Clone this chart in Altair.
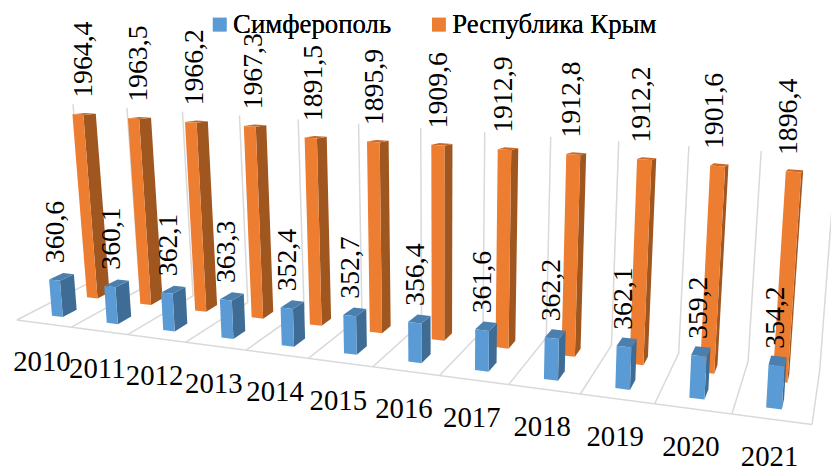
import altair as alt
import pandas as pd

YEARS = ["2010", "2011", "2012", "2013", "2014", "2015", "2016", "2017", "2018", "2019", "2020", "2021"]
SIMFEROPOL = [360.6, 360.1, 362.1, 363.3, 352.4, 352.7, 356.4, 361.6, 362.2, 362.1, 359.2, 354.2]
CRIMEA = [1964.4, 1963.5, 1966.2, 1967.3, 1891.5, 1895.9, 1909.6, 1912.9, 1912.8, 1912.2, 1901.6, 1896.4]
SERIES = ["Симферополь", "Республика Крым"]
COLORS = ["#5B9BD5", "#ED7D31"]
SIDE = ["#3F6C95", "#A0561F"]
TOP = ["#4A7FAE", "#C96A28"]
WALL_TOP = 2035
FONT = "Liberation Serif"


# Perspective of the 3-D column chart: i = category, d = depth, v = value
def project(i, d, v):
    w = 1 - 0.0155 * i + 0.08 * d
    nx = 63.3 + 53.7 * i + d * (42.9 + 2.3 * i)
    ny = 317.7 + 2.11 * i + d * (5.2 + 0.28 * i)
    x0, y0 = nx / w, ny / w
    return 445 + (x0 - 445) * (1 + 2.1e-5 * v), y0 - 0.1017 * v / w


def polygon_rows(poly, corners, **extra):
    rows = []
    for seq, (i, d, v) in enumerate(corners):
        x, y = project(i, d, v)
        rows.append({"poly": poly, "seq": seq, "x": x, "y": y, **extra})
    return rows


fronts, shades, labels = [], [], []
for s, (name, values, d0) in enumerate(zip(SERIES, [SIMFEROPOL, CRIMEA], [0.0, 1.0])):
    d1 = d0 + 0.38
    f, h = [], []
    for i, v in enumerate(values):
        f += polygon_rows(f"f{i}", [(i - .2, d0, 0), (i, d0, 0), (i, d0, v), (i - .2, d0, v)], series=name)
        h += polygon_rows(f"s{i}", [(i, d0, 0), (i, d1, 0), (i, d1, v), (i, d0, v)], shade=SIDE[s])
        h += polygon_rows(f"t{i}", [(i - .2, d0, v), (i, d0, v), (i, d1, v), (i - .2, d1, v)], shade=TOP[s])
        x, y = project(i - .1, d0, v)
        labels.append({"x": x + (445 - x) * v * 7.5e-6 + 1, "y": y - 17,
                       "t": f"{v:.1f}".replace(".", ",")})
    fronts.append(pd.DataFrame(f))
    shades.append(pd.DataFrame(h))

lines = polygon_rows("front", [(-.6, -.35, 0), (11.4, -.35, 0)])
for k in range(-1, 12):
    lines += polygon_rows(f"g{k}", [(k + .4, -.35, 0), (k + .4, 1.7, 0), (k + .4, 1.7, WALL_TOP)])

year_rows = []
for i, y_ in enumerate(YEARS):
    x, y = project(i - .1, -.35, 0)
    year_rows.append({"x": x - 2, "y": y + 38.5, "t": y_})

X = alt.X("x:Q", scale=alt.Scale(domain=[8, 838], nice=False, zero=False), axis=None)
Y = alt.Y("y:Q", scale=alt.Scale(domain=[473, 8], nice=False, zero=False), axis=None)

walls = alt.Chart(pd.DataFrame(lines)).mark_line(color="#D9D9D9", strokeWidth=1.5).encode(
    x=X, y=Y, detail="poly:N", order="seq:Q")


def shade_layer(df):
    return alt.Chart(df).mark_line(filled=True).encode(
        x=X, y=Y, detail="poly:N", order="seq:Q", fill=alt.Fill("shade:N", scale=None))


def front_layer(df):
    return alt.Chart(df).mark_line(filled=True).encode(
        x=X, y=Y, detail="poly:N", order="seq:Q",
        fill=alt.Fill("series:N", scale=alt.Scale(domain=SERIES, range=COLORS),
                      sort=SERIES,
                      legend=alt.Legend(orient="none", legendX=197, legendY=1, title=None,
                                        direction="horizontal", columns=2, symbolType="square",
                                        symbolSize=190, symbolStrokeWidth=0, symbolOffset=3,
                                        labelFont=FONT, labelFontSize=27, labelColor="black",
                                        labelOffset=0, columnPadding=31, labelLimit=400)))


value_text = alt.Chart(pd.DataFrame(labels)).mark_text(
    angle=270, align="left", baseline="middle", font=FONT, fontSize=28, color="black"
).encode(x=X, y=Y, text="t:N")
year_text = alt.Chart(pd.DataFrame(year_rows)).mark_text(
    align="center", baseline="middle", font=FONT, fontSize=29, color="black"
).encode(x=X, y=Y, text="t:N")

chart = alt.layer(
    walls, shade_layer(shades[1]), front_layer(fronts[1]),
    shade_layer(shades[0]), front_layer(fronts[0]),
    value_text, year_text,
).resolve_scale(fill="independent").properties(
    width=830, height=465, padding=0, autosize=alt.AutoSizeParams(type="none"), background="white"
).configure_view(stroke=None)

chart.save("out.html", embed_options={"renderer": "svg", "actions": False})
